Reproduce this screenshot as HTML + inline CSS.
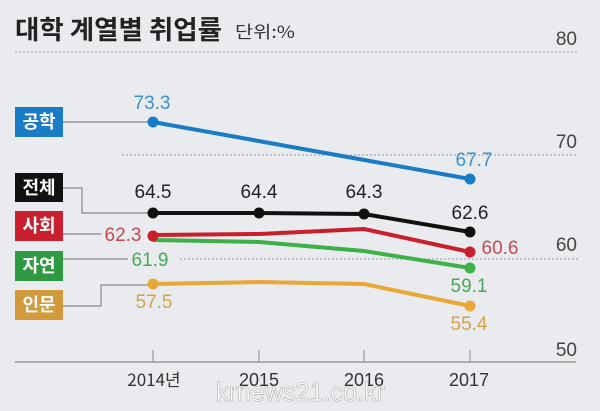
<!DOCTYPE html>
<html><head><meta charset="utf-8"><style>
body{margin:0;background:#e9ebee;}
svg{display:block;font-family:"Liberation Sans","Noto Sans CJK KR",sans-serif;}
.b{font-family:"Noto Sans CJK KR","NanumGothic",sans-serif;font-weight:bold;fill:#fff;font-size:18px;}
</style></head><body>
<svg width="600" height="411" viewBox="0 0 600 411">
<rect width="600" height="411" fill="#e9ebee"/>
<text x="15" y="39" font-family="Noto Sans CJK KR,sans-serif" font-weight="bold" font-size="26" fill="#222" textLength="207" lengthAdjust="spacingAndGlyphs">대학 계열별 취업률</text>
<text x="235" y="38" font-family="Noto Sans CJK KR,sans-serif" font-size="17" fill="#333" textLength="60" lengthAdjust="spacingAndGlyphs">단위:%</text>
<g font-size="19" fill="#444" text-anchor="end">
<text x="577" y="45">80</text><text x="577" y="148">70</text><text x="577" y="251">60</text><text x="577" y="356">50</text></g>
<g stroke="#999" stroke-dasharray="2,2" stroke-width="1">
<line x1="15" y1="52" x2="578" y2="52"/><line x1="122" y1="155" x2="578" y2="155"/><line x1="180" y1="259" x2="578" y2="259"/></g>
<line x1="15" y1="362" x2="576" y2="362" stroke="#999" stroke-width="1.5"/>
<g stroke="#888" stroke-width="1"><line x1="153" y1="350" x2="153" y2="362"/><line x1="259" y1="350" x2="259" y2="362"/><line x1="364" y1="350" x2="364" y2="362"/><line x1="470" y1="350" x2="470" y2="362"/></g>
<g font-size="18" fill="#333" text-anchor="middle"><text x="154" y="386" font-family="Noto Sans CJK KR,sans-serif" font-size="17">2014년</text><text x="259" y="386">2015</text><text x="364" y="386">2016</text><text x="469" y="386">2017</text></g>
<g stroke="#888" stroke-width="1.2" fill="none">
<polyline points="63,122 149,122"/><polyline points="63,188 82,188 82,213 150,213"/>
<polyline points="63,234 101,234"/><polyline points="63,259 128,259"/><polyline points="63,306 101,306 101,285 150,285"/></g>
<g stroke-width="4" fill="none" stroke-linejoin="round">
<polyline points="153,122 470,179" stroke="#1a7cc7"/>
<polyline points="153,213 259,213 364,214 470,232" stroke="#111"/>
<polyline points="153,235 259,234 364,229 470,252" stroke="#c8202f"/>
<polyline points="153,240 259,242 364,251 470,268" stroke="#3db048"/>
<polyline points="153,284 259,282 364,284 470,306" stroke="#e8a838"/></g>
<g><circle cx="153" cy="122" r="5.5" fill="#1a7cc7"/><circle cx="470" cy="179" r="5.5" fill="#1a7cc7"/>
<circle cx="153" cy="213" r="5.5" fill="#111"/><circle cx="259" cy="213" r="5.5" fill="#111"/><circle cx="364" cy="214" r="5.5" fill="#111"/><circle cx="470" cy="232" r="5.5" fill="#111"/>
<circle cx="153" cy="236" r="5.5" fill="#c8202f"/><circle cx="470" cy="252" r="5.5" fill="#c8202f"/>
<circle cx="470" cy="268" r="5.5" fill="#3db048"/>
<circle cx="153" cy="284" r="5.5" fill="#e8a838"/><circle cx="470" cy="306" r="5.5" fill="#e8a838"/></g>
<g font-size="19" text-anchor="middle">
<text x="152" y="109" fill="#3d8fcf">73.3</text><text x="474" y="166" fill="#3d8fcf">67.7</text>
<text x="153" y="198" fill="#222">64.5</text><text x="259" y="198" fill="#222">64.4</text><text x="364" y="198" fill="#222">64.3</text><text x="470" y="219" fill="#222">62.6</text>
<text x="123" y="241" fill="#c64a52">62.3</text><text x="500" y="254" fill="#c64a52">60.6</text>
<text x="150" y="266" fill="#4aa85a">61.9</text><text x="469" y="292" fill="#4aa85a">59.1</text>
<text x="154" y="308" fill="#d5a24a">57.5</text><text x="469" y="330" fill="#d5a24a">55.4</text></g>
<rect x="15" y="107" width="48" height="30" fill="#1a7cc7"/><text class="b" x="39" y="128" text-anchor="middle">공학</text>
<rect x="15" y="173" width="48" height="29" fill="#111"/><text class="b" x="39" y="194" text-anchor="middle">전체</text>
<rect x="15" y="211" width="48" height="30" fill="#c8202f"/><text class="b" x="39" y="232" text-anchor="middle">사회</text>
<rect x="15" y="251" width="48" height="30" fill="#2f9a42"/><text class="b" x="39" y="272" text-anchor="middle">자연</text>
<rect x="15" y="290" width="48" height="30" fill="#d19a3a"/><text class="b" x="39" y="311" text-anchor="middle">인문</text>
<text x="216" y="401" font-size="27" fill="#fff" stroke="#aaa" stroke-width="0.6" textLength="169" lengthAdjust="spacingAndGlyphs">krnews21.co.kr</text>
</svg>
</body></html>
